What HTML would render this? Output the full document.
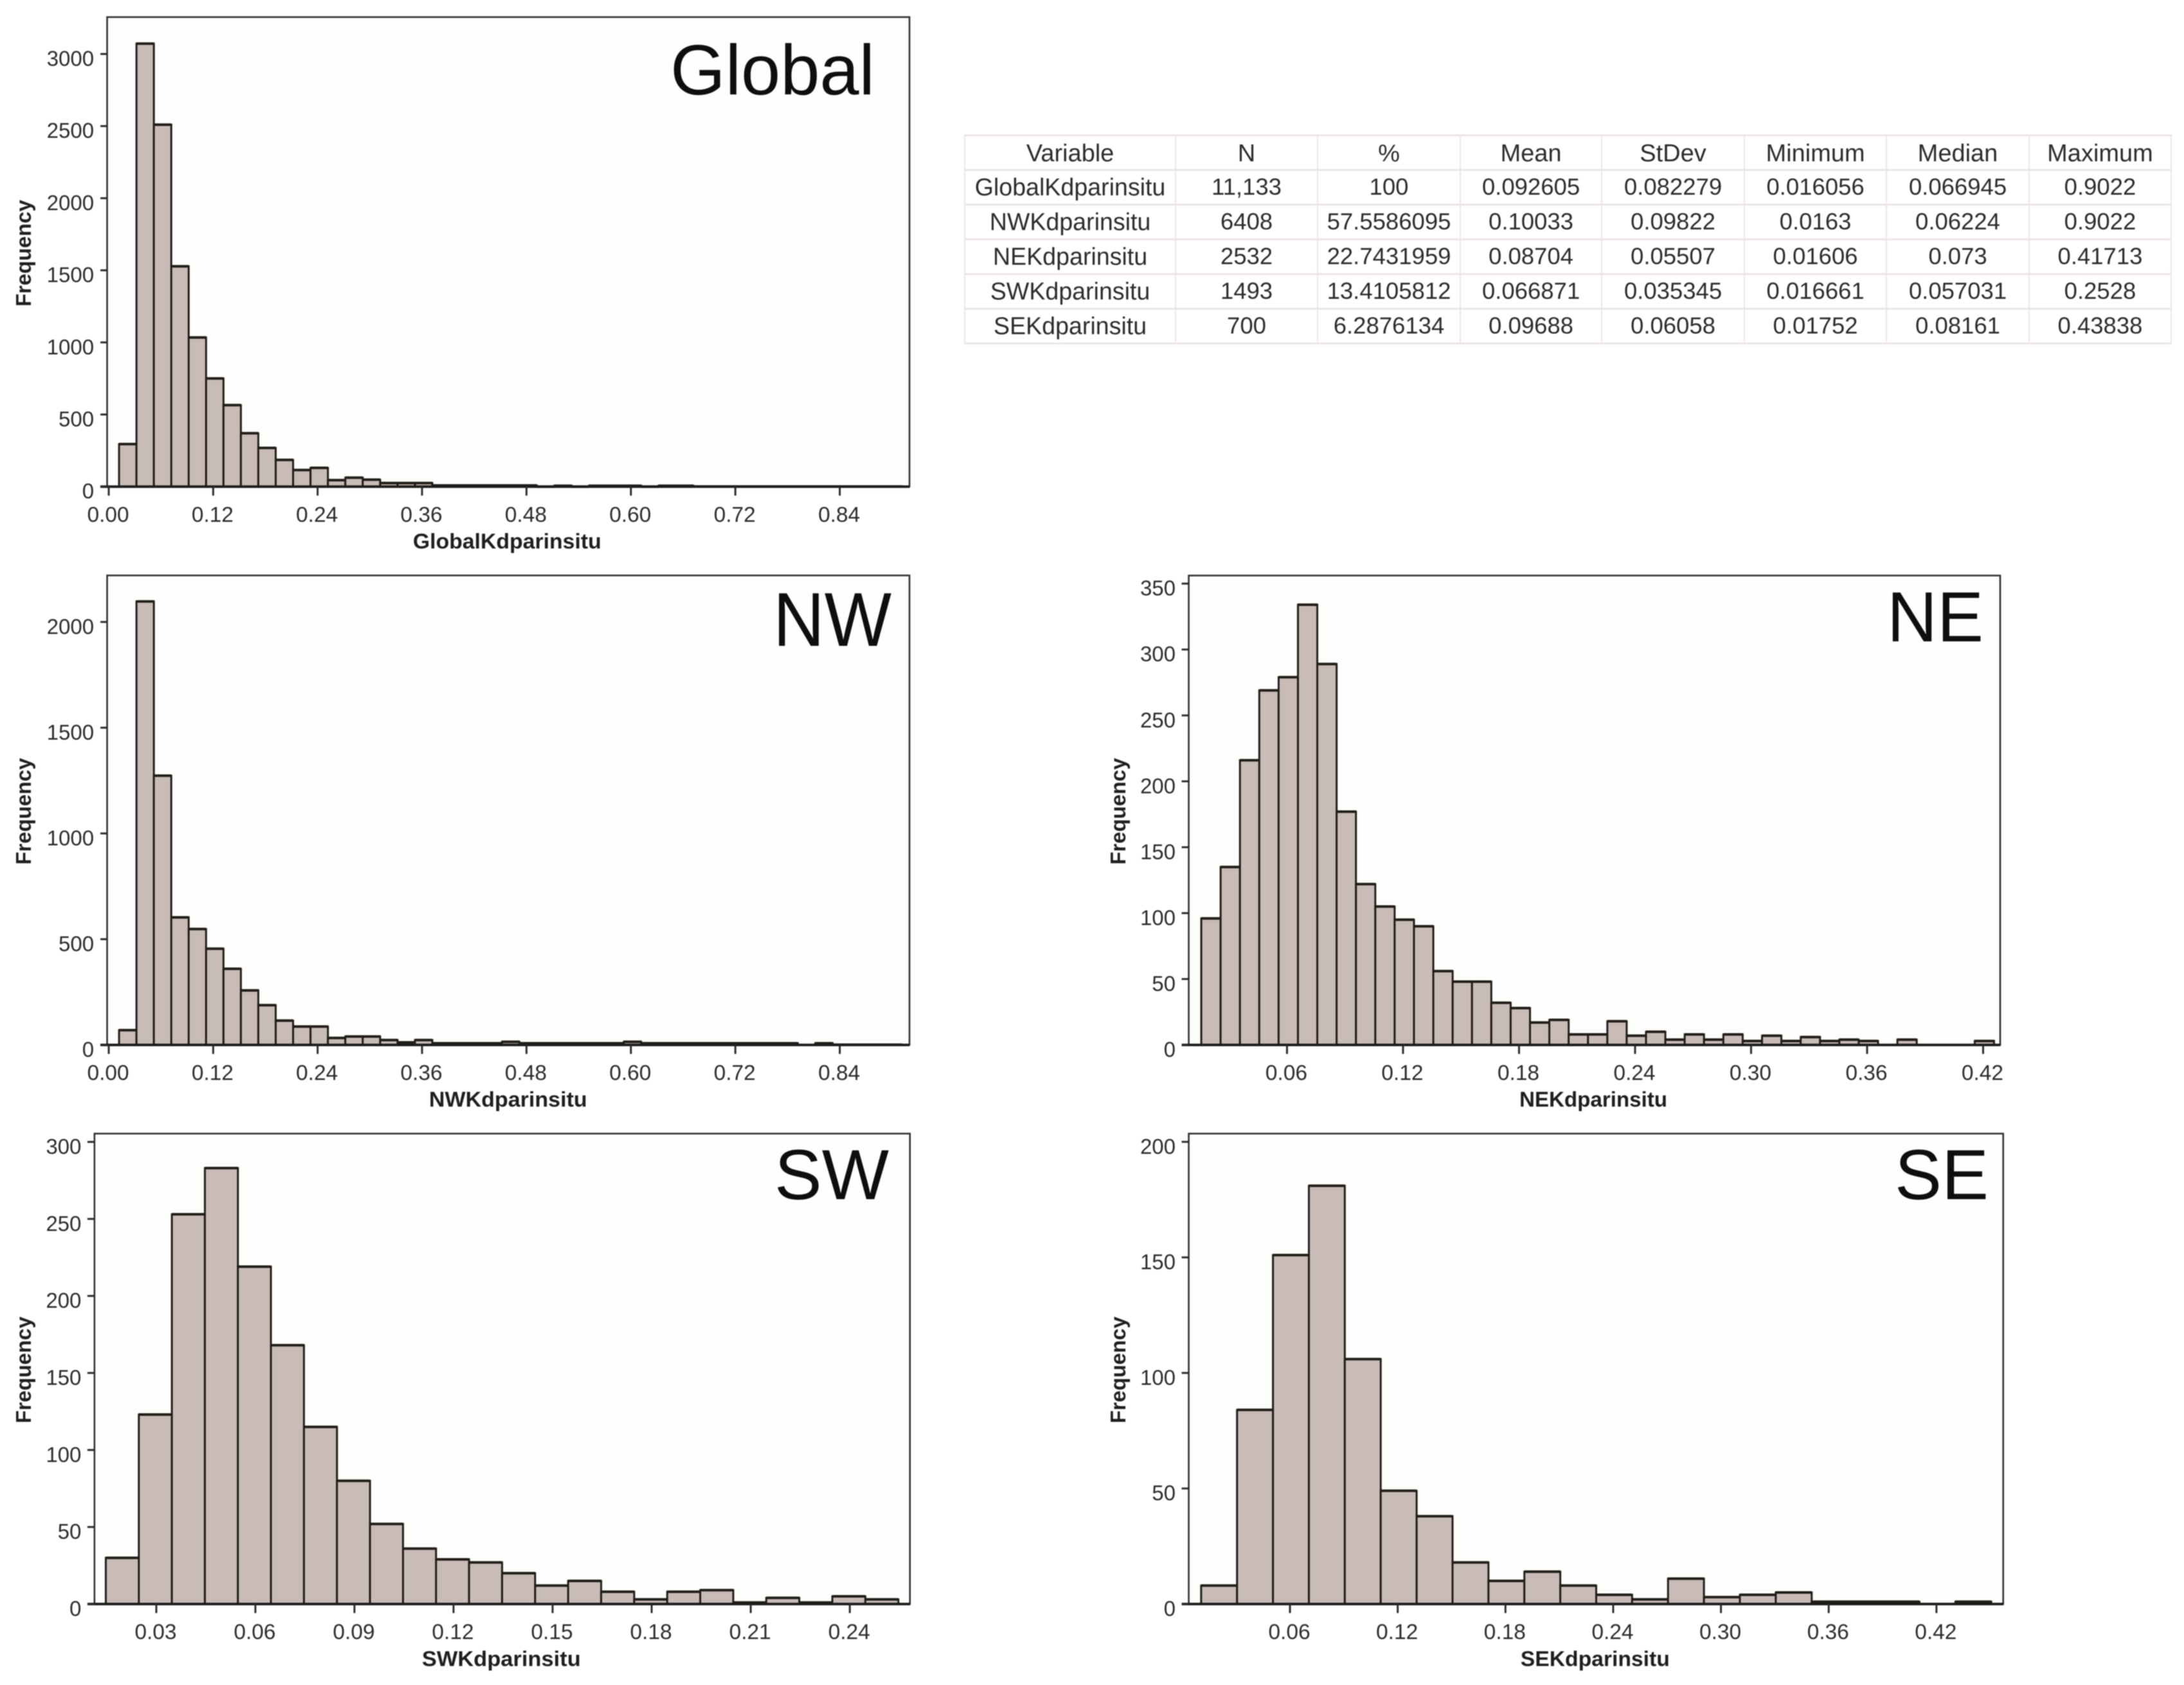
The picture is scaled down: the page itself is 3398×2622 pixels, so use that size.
<!DOCTYPE html>
<html lang="en">
<head>
<meta charset="utf-8">
<title>Kd par in situ histograms</title>
<style>
html,body{margin:0;padding:0;background:#fff;}
#page{position:relative;width:3398px;height:2622px;overflow:hidden;background:#fff;filter:blur(0.7px);}
#charts{position:absolute;left:0;top:0;}
text{font-family:"Liberation Sans",sans-serif;}
#stats{position:absolute;left:1500px;top:209px;border-collapse:collapse;table-layout:fixed;width:1879px;
 font-family:"Liberation Sans",sans-serif;font-size:36.5px;color:#2b2b2b;}
#stats td{border:solid #ece6e2;border-width:3px 2px;padding:0 0 2px 0;text-align:center;white-space:nowrap;height:49px;line-height:36px;overflow:hidden;}
#stats tr:first-child td{font-size:38px;padding:3px 0 0 0;height:48px;}
#stats td:first-child{font-size:37.6px;}
</style>
</head>
<body>
<div id="page">
<svg id="charts" width="3398" height="2622" viewBox="0 0 3398 2622" xmlns="http://www.w3.org/2000/svg"></svg>
<table id="stats">
<colgroup><col style="width:328px"><col style="width:221px"><col style="width:222px"><col style="width:220px"><col style="width:222px"><col style="width:221px"><col style="width:222px"><col style="width:221px"></colgroup>
<tr><td>Variable</td><td>N</td><td>%</td><td>Mean</td><td>StDev</td><td>Minimum</td><td>Median</td><td>Maximum</td></tr>
<tr><td>GlobalKdparinsitu</td><td>11,133</td><td>100</td><td>0.092605</td><td>0.082279</td><td>0.016056</td><td>0.066945</td><td>0.9022</td></tr>
<tr><td>NWKdparinsitu</td><td>6408</td><td>57.5586095</td><td>0.10033</td><td>0.09822</td><td>0.0163</td><td>0.06224</td><td>0.9022</td></tr>
<tr><td>NEKdparinsitu</td><td>2532</td><td>22.7431959</td><td>0.08704</td><td>0.05507</td><td>0.01606</td><td>0.073</td><td>0.41713</td></tr>
<tr><td>SWKdparinsitu</td><td>1493</td><td>13.4105812</td><td>0.066871</td><td>0.035345</td><td>0.016661</td><td>0.057031</td><td>0.2528</td></tr>
<tr><td>SEKdparinsitu</td><td>700</td><td>6.2876134</td><td>0.09688</td><td>0.06058</td><td>0.01752</td><td>0.08161</td><td>0.43838</td></tr>
</table>
</div>
<script>
// ---- Data: bin centres start / step, counts per bin, tick labels ----
const globalBinStart = 0.02, globalBinStep = 0.02;
const globalCounts = [295,3072,2510,1528,1034,750,565,370,268,185,115,130,45,62,48,25,25,25,8,8,8,8,8,8,0,6,0,6,6,6,0,6,6,1,1,1,1,1,1,1,1,1,1,1,1];
const globalXTicks = ["0.00","0.12","0.24","0.36","0.48","0.60","0.72","0.84"];
const globalYTicks = ["0","500","1000","1500","2000","2500","3000"];

const nwBinStart = 0.02, nwBinStep = 0.02;
const nwCounts = [70,2097,1273,603,548,455,360,258,188,115,87,87,33,40,40,23,12,23,8,8,8,8,15,8,8,8,8,8,8,15,8,8,8,8,8,8,8,8,8,0,8,1,1,1,1];
const nwXTicks = ["0.00","0.12","0.24","0.36","0.48","0.60","0.72","0.84"];
const nwYTicks = ["0","500","1000","1500","2000"];

const neBinStart = 0.02, neBinStep = 0.01;
const neCounts = [96,135,216,269,279,334,289,177,122,105,95,90,56,48,48,32,28,17,19,8,8,18,7,10,4,8,4,8,3,7,3,6,3,4,3,0,4,0,0,0,3];
const neXTicks = ["0.06","0.12","0.18","0.24","0.30","0.36","0.42"];
const neYTicks = ["0","50","100","150","200","250","300","350"];

const swBinStart = 0.02, swBinStep = 0.01;
const swCounts = [30,123,253,283,219,168,115,80,52,36,29,27,20,12,15,8,3,8,9,1,4,1,5,3];
const swXTicks = ["0.03","0.06","0.09","0.12","0.15","0.18","0.21","0.24"];
const swYTicks = ["0","50","100","150","200","250","300"];

const seBinStart = 0.02, seBinStep = 0.02;
const seCounts = [8,84,151,181,106,49,38,18,10,14,8,4,2,11,3,4,5,1,1,1,0,1];
const seXTicks = ["0.06","0.12","0.18","0.24","0.30","0.36","0.42"];
const seYTicks = ["0","50","100","150","200"];

const SVG_NS = "http://www.w3.org/2000/svg";
const root = document.getElementById("charts");

function make(tag, attrs, parent, content) {
  const node = document.createElementNS(SVG_NS, tag);
  for (const key in attrs) node.setAttribute(key, attrs[key]);
  if (content !== undefined) node.textContent = content;
  parent.appendChild(node);
  return node;
}

function drawPanel(p) {
  const group = make("g", {}, root);
  
  

  const sx = v => p.xRefPx + (v - p.xRefVal) * p.xPerUnit;
  const sy = v => p.y0 - v * p.yPerUnit;

  const frame = make("rect", {x:p.left, y:p.top, width:p.right-p.left, height:p.y0-p.top, fill:"#fefefc", stroke:"#2e2e2e", "stroke-width":2.6}, group);
  
  

  p.counts.forEach((count, i) => {
    const centre = p.binStart + i * p.binStep;
    const xa = sx(centre - p.binStep / 2) + p.barShift, xb = sx(centre + p.binStep / 2) + p.barShift;
    const bar = make("rect", {x:xa, y:sy(count), width:xb-xa, height:p.y0-sy(count), fill:"#c9bcb7", stroke:"#201c18", "stroke-width":3}, group);
    
    
    const cap = make("line", {x1:xa, x2:xb, y1:sy(count), y2:sy(count), stroke:"#201c18", "stroke-width":4}, group);
    
    
  });

  const baseline = make("line", {x1:p.left-p.yTickLen, x2:p.right, y1:p.y0, y2:p.y0, stroke:"#1c1c1c", "stroke-width":4}, group);
  
  

  p.xTicks.forEach(label => {
    const x = sx(parseFloat(label));
    const tick = make("line", {x1:x, x2:x, y1:p.y0, y2:p.y0+14, stroke:"#2a2a2a", "stroke-width":3}, group);
    
    
    const text = make("text", {x:x-1, y:p.y0+54.6, "text-anchor":"middle", "font-size":33.5, fill:"#2b2b2b"}, group, label);
    
    
  });

  p.yTicks.forEach(label => {
    const y = sy(parseFloat(label));
    const tick = make("line", {x1:p.left-p.yTickLen, x2:p.left, y1:y, y2:y, stroke:"#2a2a2a", "stroke-width":3}, group);
    
    
    const text = make("text", {x:p.left-20.5, y:y+18.5, "text-anchor":"end", "font-size":33, fill:"#2b2b2b"}, group, label);
    
    
  });

  const xTitle = make("text", {x:p.xTitleX, y:p.xTitleY, "text-anchor":"middle", "font-size":33, "font-weight":"bold", fill:"#1e1e1e", textLength:p.xTitleW, lengthAdjust:"spacingAndGlyphs"}, group, p.xTitle);
  
  

  const yTitle = make("text", {transform:"translate(" + p.yTitleX + "," + p.yTitleY + ") rotate(-90)", "text-anchor":"middle", "font-size":33, "font-weight":"bold", fill:"#1e1e1e", textLength:166, lengthAdjust:"spacingAndGlyphs"}, group, "Frequency");
  
  

  const panelLabel = make("text", {x:p.labelX, y:p.labelY, "font-size":p.labelSize, fill:"#0e0e0e", textLength:p.labelW, lengthAdjust:"spacingAndGlyphs"}, group, p.label);
  
  
}

drawPanel({id:"global", left:166.7, right:1415, top:26.6, y0:757.2, yTickLen:10.5, barShift:2.5,
  xRefPx:169.2, xRefVal:0, xPerUnit:1354, yPerUnit:0.2244,
  binStart:globalBinStart, binStep:globalBinStep, counts:globalCounts, xTicks:globalXTicks, yTicks:globalYTicks,
  xTitle:"GlobalKdparinsitu", xTitleX:789, xTitleY:853.5, xTitleW:293, yTitleX:48, yTitleY:394,
  label:"Global", labelX:1043, labelY:147, labelSize:110, labelW:318});

drawPanel({id:"nw", left:166.7, right:1415, top:895.4, y0:1626, yTickLen:10.5, barShift:2.5,
  xRefPx:169.2, xRefVal:0, xPerUnit:1354, yPerUnit:0.3291,
  binStart:nwBinStart, binStep:nwBinStep, counts:nwCounts, xTicks:nwXTicks, yTicks:nwYTicks,
  xTitle:"NWKdparinsitu", xTitleX:790.5, xTitleY:1722, xTitleW:246, yTitleX:48, yTitleY:1262.5,
  label:"NW", labelX:1203, labelY:1005, labelSize:119, labelW:184});

drawPanel({id:"ne", left:1849.5, right:3112, top:895.6, y0:1626, yTickLen:11, barShift:2,
  xRefPx:2002.4, xRefVal:0.06, xPerUnit:3008.5, yPerUnit:2.051,
  binStart:neBinStart, binStep:neBinStep, counts:neCounts, xTicks:neXTicks, yTicks:neYTicks,
  xTitle:"NEKdparinsitu", xTitleX:2479, xTitleY:1722, xTitleW:230, yTitleX:1751, yTitleY:1262.5,
  label:"NE", labelX:2936, labelY:998, labelSize:110, labelW:150});

drawPanel({id:"sw", left:147, right:1415.7, top:1764, y0:2496, yTickLen:11, barShift:-1.5,
  xRefPx:243.2, xRefVal:0.03, xPerUnit:5138, yPerUnit:2.397,
  binStart:swBinStart, binStep:swBinStep, counts:swCounts, xTicks:swXTicks, yTicks:swYTicks,
  xTitle:"SWKdparinsitu", xTitleX:780, xTitleY:2592.6, xTitleW:247, yTitleX:48, yTitleY:2131.8,
  label:"SW", labelX:1205, labelY:1866, labelSize:110, labelW:178});

drawPanel({id:"se", left:1849.5, right:3116.7, top:1764, y0:2496, yTickLen:11, barShift:1.5,
  xRefPx:2007, xRefVal:0.06, xPerUnit:2794, yPerUnit:3.596,
  binStart:seBinStart, binStep:seBinStep, counts:seCounts, xTicks:seXTicks, yTicks:seYTicks,
  xTitle:"SEKdparinsitu", xTitleX:2481.8, xTitleY:2592.6, xTitleW:232, yTitleX:1751, yTitleY:2131.8,
  label:"SE", labelX:2948, labelY:1866, labelSize:110, labelW:146});
</script>
</body>
</html>
